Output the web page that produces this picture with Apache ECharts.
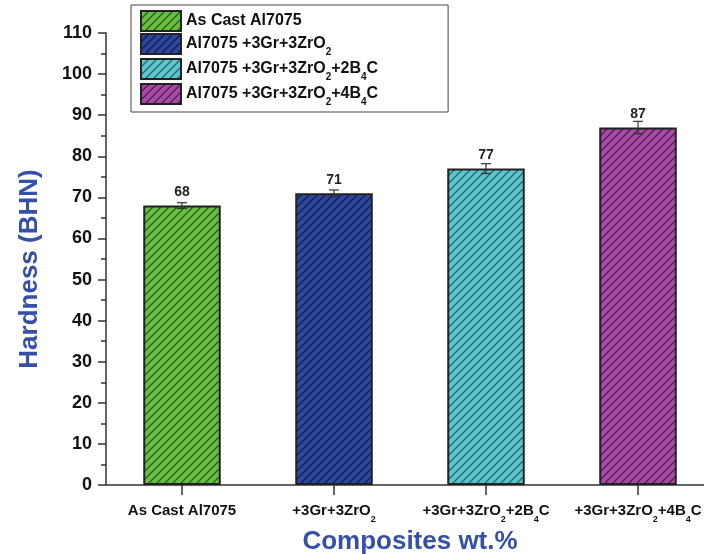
<!DOCTYPE html>
<html>
<head>
<meta charset="utf-8">
<script src="https://cdn.jsdelivr.net/npm/echarts@6/dist/echarts.min.js"></script>
<style>
  html, body { margin: 0; padding: 0; background: #fff; }
  #chart { width: 704px; height: 554px; }
</style>
</head>
<body>
<div id="chart"></div>
<script>
// Hardness of Al7075 and its hybrid composites.
// "_n" marks a subscript digit in a label.
const categories = ['As Cast Al7075', '+3Gr+3ZrO_2', '+3Gr+3ZrO_2+2B_4C', '+3Gr+3ZrO_2+4B_4C'];
const seriesNames = ['As Cast Al7075', 'Al7075 +3Gr+3ZrO_2', 'Al7075 +3Gr+3ZrO_2+2B_4C', 'Al7075 +3Gr+3ZrO_2+4B_4C'];
const hardness = [68, 71, 77, 87];
const errors = [0.7, 0.8, 1.2, 1.5];
const yTicks = { min: 0, max: 110, interval: 10 };

const fills = ['#6abf43', '#2f479d', '#5dc6cd', '#a64ca5'];
const hatchLines = ['#23601f', '#0f1c4d', '#23676c', '#551b55'];

const FONT = '"Liberation Sans", Arial, sans-serif';
const BLUE = '#3550a8';

// Diagonal hatch tile, repeated across each bar
function hatch(bg, line) {
  const s = 8;
  const c = document.createElement('canvas');
  c.width = s; c.height = s;
  const g = c.getContext('2d');
  g.fillStyle = bg;
  g.fillRect(0, 0, s, s);
  g.strokeStyle = line;
  g.lineWidth = 1.3;
  g.beginPath();
  g.moveTo(-1, s + 1); g.lineTo(s + 1, -1);
  g.moveTo(-2, 2); g.lineTo(2, -2);
  g.moveTo(s - 2, s + 2); g.lineTo(s + 2, s - 2);
  g.stroke();
  return { image: c, repeat: 'repeat' };
}

// Turn "ZrO_2" into rich-text tokens with a subscript style
function richText(str) {
  const parts = str.split(/_(\d)/);
  let out = '';
  parts.forEach((p, i) => {
    if (!p) return;
    out += (i % 2 === 1) ? '{s|' + p + '}' : '{t|' + p + '}';
  });
  return out;
}

const barSeries = seriesNames.map((name, i) => ({
  name: name,
  type: 'bar',
  stack: 'hardness',
  barWidth: '51%',
  data: categories.map((c, j) => (j === i ? hardness[i] : '-')),
  itemStyle: {
    color: hatch(fills[i], hatchLines[i]),
    borderColor: '#222',
    borderWidth: 2
  },
  label: {
    show: true,
    position: 'top',
    distance: 6,
    color: '#222',
    fontFamily: FONT,
    fontWeight: 'bold',
    fontSize: 14
  }
}));

const errorSeries = {
  type: 'custom',
  name: 'error',
  z: 10,
  data: hardness.map((v, i) => [i, v, errors[i]]),
  renderItem: function (params, api) {
    const i = api.value(0);
    const hi = api.coord([i, api.value(1) + api.value(2)]);
    const lo = api.coord([i, api.value(1) - api.value(2)]);
    const w = 5;
    const st = { stroke: '#333', lineWidth: 1.2 };
    return {
      type: 'group',
      children: [
        { type: 'line', shape: { x1: hi[0], y1: hi[1], x2: lo[0], y2: lo[1] }, style: st },
        { type: 'line', shape: { x1: hi[0] - w, y1: hi[1], x2: hi[0] + w, y2: hi[1] }, style: st },
        { type: 'line', shape: { x1: lo[0] - w, y1: lo[1], x2: lo[0] + w, y2: lo[1] }, style: st }
      ]
    };
  }
};

const chart = echarts.init(document.getElementById('chart'), null, { renderer: 'canvas' });
chart.setOption({
  animation: false,
  backgroundColor: '#fff',
  textStyle: { fontFamily: FONT },
  grid: { left: 106, right: -10, top: 33, bottom: 69, containLabel: false, outerBoundsMode: 'none' },
  legend: {
    data: seriesNames,
    orient: 'vertical',
    left: 131,
    top: 5,
    padding: [5, 70, 5, 9],
    itemGap: 1,
    itemWidth: 40,
    itemHeight: 20,
    icon: 'rect',
    backgroundColor: '#fff',
    borderColor: '#444',
    borderWidth: 1,
    borderRadius: 0,
    selectedMode: false,
    formatter: function (name) { return richText(name); },
    textStyle: {
      padding: [0, 0, 0, 0],
      rich: {
        t: { fontFamily: FONT, fontWeight: 'bold', fontSize: 16, color: '#111', verticalAlign: 'middle' },
        s: { fontFamily: FONT, fontWeight: 'bold', fontSize: 10, color: '#111', lineHeight: 26, verticalAlign: 'bottom' }
      }
    }
  },
  xAxis: {
    type: 'category',
    data: categories,
    name: 'Composites wt.%',
    nameLocation: 'middle',
    nameGap: 38,
    nameTextStyle: { fontFamily: FONT, fontWeight: 'bold', fontSize: 26, color: BLUE },
    axisLine: { lineStyle: { color: '#333', width: 1.5 } },
    axisTick: { show: true, alignWithLabel: true, interval: 0, length: 10, lineStyle: { color: '#333', width: 1.5 } },
    axisLabel: {
      margin: 18,
      interval: 0,
      formatter: function (v) { return richText(v); },
      rich: {
        t: { fontFamily: FONT, fontWeight: 'bold', fontSize: 15, color: '#111', verticalAlign: 'top' },
        s: { fontFamily: FONT, fontWeight: 'bold', fontSize: 9, color: '#111', lineHeight: 21, verticalAlign: 'bottom' }
      }
    },
    splitLine: { show: false }
  },
  yAxis: {
    type: 'value',
    min: yTicks.min,
    max: yTicks.max,
    interval: yTicks.interval,
    name: 'Hardness (BHN)',
    nameLocation: 'middle',
    nameGap: 63,
    nameTextStyle: { fontFamily: FONT, fontWeight: 'bold', fontSize: 26, color: BLUE, padding: [0, 0, 0, -20] },
    axisLine: { show: true, lineStyle: { color: '#333', width: 1.5 } },
    axisTick: { show: true, length: 8, lineStyle: { color: '#333', width: 1.5 } },
    minorTick: { show: true, splitNumber: 2, length: 5, lineStyle: { color: '#333', width: 1.5 } },
    axisLabel: { margin: 14, fontFamily: FONT, fontWeight: 'bold', fontSize: 18, color: '#111' },
    splitLine: { show: false }
  },
  series: barSeries.concat([errorSeries])
});
</script>
</body>
</html>
